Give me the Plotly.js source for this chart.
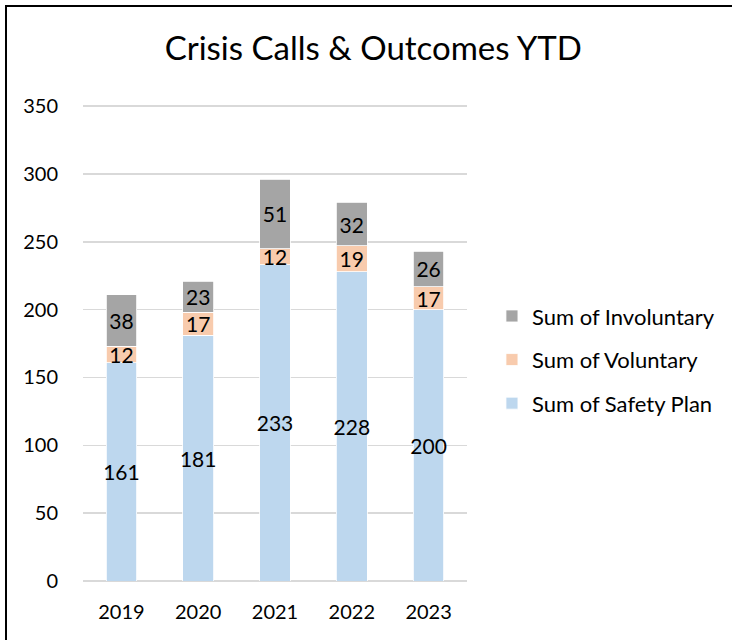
<!DOCTYPE html>
<html>
<head>
<meta charset="utf-8">
<script src="https://cdn.plot.ly/plotly-3.0.1.min.js"></script>
<style>
  html, body { margin: 0; padding: 0; background: #fff; }
  #frame { position: absolute; left: 5px; top: 5px; width: 740px; height: 660px;
           border-left: 2.5px solid #000; border-top: 2.5px solid #000; box-sizing: border-box; }
  #chart { position: absolute; left: 0; top: 0; width: 732px; height: 640px; }
</style>
</head>
<body>
<div id="frame"></div>
<div id="chart"></div>
<script>
const years = ['2019', '2020', '2021', '2022', '2023'];
const safetyPlan = [161, 181, 233, 228, 200];
const voluntary = [12, 17, 12, 19, 17];
const involuntary = [38, 23, 51, 32, 26];
const yTicks = [0, 50, 100, 150, 200, 250, 300, 350];

const FONT = 'Lato, "Open Sans", sans-serif';
const labelFont = { family: FONT, size: 21, color: '#000' };
function series(name, vals, color, grp, rank) {
  return {
    type: 'bar', name: name, x: years, y: vals, legendgroup: grp, legendrank: rank,
    text: vals.map(String), textposition: 'inside', insidetextanchor: 'middle',
    textangle: 0, textfont: labelFont, constraintext: 'none',
    marker: { color: color, line: { color: '#fff', width: 0.8 } },
    hoverinfo: 'skip'
  };
}
const data = [
  series('Sum of Safety Plan', safetyPlan, '#BDD7EE', 'a', 3),
  series('Sum of Voluntary', voluntary, '#F8CBAD', 'b', 2),
  series('Sum of Involuntary', involuntary, '#A5A5A5', 'c', 1)
];
const layout = {
  width: 732, height: 640,
  paper_bgcolor: 'rgba(0,0,0,0)', plot_bgcolor: 'rgba(0,0,0,0)',
  margin: { l: 83, r: 262, t: 105, b: 59 },
  barmode: 'stack', bargap: 0.6,
  uniformtext: { mode: 'show', minsize: 21 },
  font: { family: FONT, color: '#000' },
  title: { text: 'Crisis Calls & Outcomes YTD', xref: 'container', x: 0.51, xanchor: 'center',
           yref: 'container', y: 0.925, yanchor: 'middle',
           font: { family: FONT, size: 33, color: '#000' } },
  xaxis: { type: 'category', showgrid: false, showline: false, ticks: '', zeroline: false,
           tickfont: { size: 20, color: '#000' }, ticklabelstandoff: 17 },
  yaxis: { range: [0, 350.8], tickvals: yTicks, ticktext: yTicks.map(String),
           showgrid: true, gridcolor: '#D9D9D9', gridwidth: 1.5,
           zeroline: true, zerolinecolor: '#D9D9D9', zerolinewidth: 1.5,
           showline: false, ticks: '', tickfont: { size: 20, color: '#000' }, ticklabelstandoff: 24 },
  legend: { x: 1.065, xanchor: 'left', y: 0.465, yanchor: 'middle', traceorder: 'grouped',
            font: { size: 22, color: '#000' }, tracegroupgap: 12, itemwidth: 30 },
  showlegend: true
};
Plotly.newPlot('chart', data, layout, { displayModeBar: false, staticPlot: true });
</script>
</body>
</html>
